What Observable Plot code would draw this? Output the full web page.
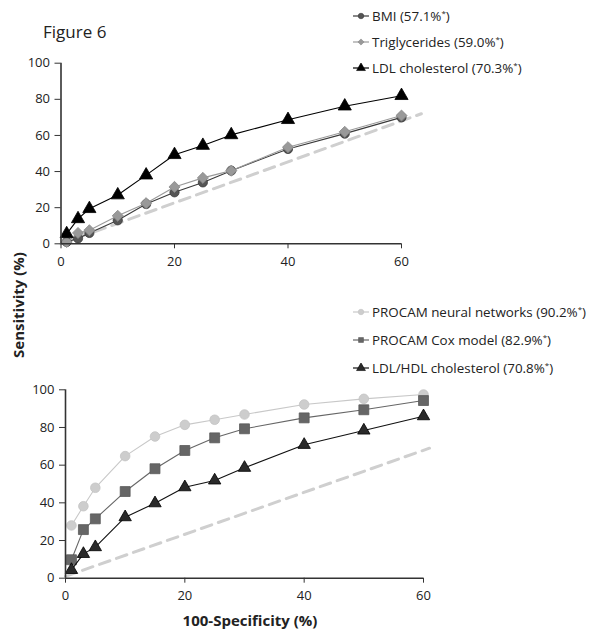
<!DOCTYPE html>
<html>
<head>
<meta charset="utf-8">
<script src="https://cdn.jsdelivr.net/npm/d3@7"></script>
<script src="https://cdn.jsdelivr.net/npm/@observablehq/plot@0.6"></script>
<style>
  html, body { margin: 0; padding: 0; background: #fff; }
  #fig { position: relative; width: 594px; height: 630px; font-family: "Open Sans", sans-serif; color: #222; overflow: hidden; }
  .abs { position: absolute; }
  .title { left: 43px; top: 20px; font-size: 17px; }
  .ylab { left: 18px; top: 305px; font-size: 15px; font-weight: bold; transform: translate(-50%, -50%) rotate(-90deg); white-space: nowrap; }
  .xlab { left: 250px; top: 620px; font-size: 15px; font-weight: bold; transform: translate(-50%, -50%); white-space: nowrap; }
  .leg { font-size: 13.4px; white-space: nowrap; display: flex; align-items: center; transform: translateY(-50%); }
  .leg svg { margin-right: 3px; }
  .leg sup { font-size: 8px; vertical-align: 5px; }
  svg.plot { position: absolute; left: 0; }
</style>
</head>
<body>
<div id="fig"></div>
<script>
// ---- data ----
const fpr = [1, 3, 5, 10, 15, 20, 25, 30, 40, 50, 60];
const bmi = [1, 3, 6, 13, 22, 28.5, 34, 40.5, 52.5, 61, 70];
const triglycerides = [1, 6, 7.5, 15.5, 22.5, 31.5, 36.5, 40.5, 53.5, 62, 71];
const ldl = [5.5, 13.8, 19.4, 27, 38, 49.3, 54.4, 60.3, 68.7, 76.2, 82];
const neural = [28, 38.2, 48, 64.8, 75.2, 81.4, 84.1, 86.9, 92.2, 95.2, 97.5];
const cox = [9.8, 25.8, 31.5, 46, 58.1, 67.8, 74.5, 79.3, 85.1, 89.4, 94.3];
const ldlhdl = [4.4, 12.9, 16.5, 32.4, 39.8, 48.3, 51.9, 58.6, 70.8, 78.4, 86];
const diagTopX = [0, 63.5], diagTopY = [0, 72];
const diagBotX = [0, 61], diagBotY = [1, 69];
const xTicks = [0, 20, 40, 60];
const yTicks = [0, 20, 40, 60, 80, 100];

const topSeries = [
  {name: "BMI", auc: "57.1", values: bmi, symbol: "circle", r: 4.6, fill: "#555", stroke: "#3a3a3a", line: "#3a3a3a"},
  {name: "Triglycerides", auc: "59.0", values: triglycerides, symbol: "diamond2", r: 5, fill: "#999", stroke: "#8a8a8a", line: "#9a9a9a"},
  {name: "LDL cholesterol", auc: "70.3", values: ldl, symbol: "triangle", r: 4.9, fill: "#000", stroke: "#000", line: "#000"}
];
const botSeries = [
  {name: "PROCAM neural networks", auc: "90.2", values: neural, symbol: "circle", r: 4.8, fill: "#cdcdcd", stroke: "#c4c4c4", line: "#c8c8c8"},
  {name: "PROCAM Cox model", auc: "82.9", values: cox, symbol: "square", r: 5.6, fill: "#666", stroke: "#5a5a5a", line: "#666"},
  {name: "LDL/HDL cholesterol", auc: "70.8", values: ldlhdl, symbol: "triangle", r: 4.6, fill: "#2a2a2a", stroke: "#000", line: "#111"}
];

const fig = document.getElementById("fig");

function makeChart(series, diagX, diagY, opts) {
  const diag = diagX.map((x, i) => ({x, y: diagY[i]}));
  const marks = [
    Plot.line(diag, {x: "x", y: "y", stroke: "#cfcfcf", strokeWidth: 3, strokeDasharray: "11,7"}),
  ];
  for (const s of series) {
    const d = fpr.map((x, i) => ({x, y: s.values[i]}));
    marks.push(Plot.line(d, {x: "x", y: "y", stroke: s.line, strokeWidth: 1.1}));
    marks.push(Plot.dot(d, {x: "x", y: "y", symbol: s.symbol, r: s.r, fill: s.fill, stroke: s.stroke, strokeWidth: 0.8}));
  }
  marks.push(Plot.ruleY([0], {stroke: "#333", strokeWidth: 1.6}));
  marks.push(Plot.ruleX([0], {stroke: "#333", strokeWidth: 1.6}));
  marks.push(Plot.axisX({ticks: xTicks, tickSize: 5, tickPadding: 8, fontSize: 13, stroke: "#333", label: null}));
  marks.push(Plot.axisY({ticks: yTicks, tickSize: 6, tickPadding: 5, fontSize: 13, stroke: "#333", label: null}));
  const svg = Plot.plot({
    width: 594, height: opts.height,
    marginLeft: opts.ml, marginRight: opts.mr, marginTop: opts.mt, marginBottom: opts.mb,
    x: {domain: [0, 60], label: null},
    y: {domain: [0, 100], label: null},
    style: {fontFamily: "'Open Sans', sans-serif", fontSize: "13px", color: "#222", background: "transparent", overflow: "visible"},
    marks
  });
  svg.classList.add("plot");
  svg.style.top = opts.top + "px";
  fig.appendChild(svg);
}

makeChart(topSeries, diagTopX, diagTopY, {top: 0, height: 300, ml: 60.5, mr: 193, mt: 62.7, mb: 56.7});
makeChart(botSeries, diagBotX, diagBotY, {top: 300, height: 330, ml: 65, mr: 171, mt: 89.3, mb: 52.3});

function addText(cls, html) {
  const el = document.createElement("div");
  el.className = "abs " + cls;
  el.innerHTML = html;
  fig.appendChild(el);
  return el;
}
addText("title", "Figure 6");
addText("ylab", "Sensitivity (%)");
addText("xlab", "100-Specificity (%)");

const symbolFns = {circle: d3.symbolCircle, diamond2: d3.symbolDiamond2, triangle: d3.symbolTriangle, square: d3.symbolSquare};
function legend(series, left, ys) {
  series.forEach((s, i) => {
    const el = document.createElement("div");
    el.className = "abs leg";
    el.style.left = left + "px";
    el.style.top = ys[i] + "px";
    const path = d3.symbol(symbolFns[s.symbol], s.symbol === "triangle" ? 34 : 24)();
    el.innerHTML = `<svg width="16" height="10" viewBox="0 0 16 10"><line x1="0" x2="16" y1="5" y2="5" stroke="${s.line}" stroke-width="1.2"/><path d="${path}" transform="translate(8,5)" fill="${s.fill}" stroke="${s.stroke}" stroke-width="0.6"/></svg><span>${s.name} (${s.auc}%<sup>*</sup>)</span>`;
    fig.appendChild(el);
  });
}
legend(topSeries, 353, [16, 42, 68]);
legend(botSeries, 353, [312, 340, 368]);
</script>
</body>
</html>
